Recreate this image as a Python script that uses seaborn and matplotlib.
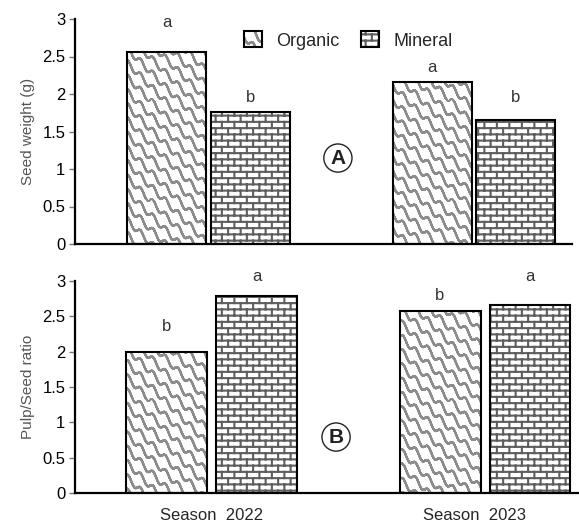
import warnings
warnings.filterwarnings("ignore")
import numpy as np
import pandas as pd
import matplotlib
matplotlib.use("Agg")
import matplotlib.pyplot as plt
import seaborn as sns
from matplotlib import hatch as mhatch
from matplotlib.path import Path
from matplotlib.colors import to_rgba

# ---------------- data ----------------
seasons = ["Season 2022", "Season 2023"]
season_labels = ["Season  2022", "Season  2023"]
treatments = ["Organic", "Mineral"]
seed_weight_organic = [2.56, 2.16]
seed_weight_mineral = [1.76, 1.65]
pulp_seed_organic = [2.00, 2.58]
pulp_seed_mineral = [2.79, 2.66]
seed_letters_organic = ["a", "a"]
seed_letters_mineral = ["b", "b"]
pulp_letters_organic = ["b", "b"]
pulp_letters_mineral = ["a", "a"]
# letter heights (data units)
seed_letter_y_organic = [2.95, 2.35]
seed_letter_y_mineral = [1.96, 1.95]
pulp_letter_y_organic = [2.35, 2.80]
pulp_letter_y_mineral = [3.06, 3.06]
yticks = [0, 0.5, 1, 1.5, 2, 2.5, 3]
ytick_labels = ["0", "0.5", "1", "1.5", "2", "2.5", "3"]


# ---------------- custom hatches ----------------
class BrickHatch(mhatch.HatchPatternBase):
    rows, cols = 16, 8

    def __init__(self, hatch, density):
        self.segs = []
        if "b" in hatch:
            R, C = self.rows, self.cols
            for r in range(R):
                y0 = (r + 0.5) / R
                self.segs.append(((0, y0), (1, y0)))
                y1 = (r + 1.5) / R
                for c in range(C):
                    x = (c + 0.25 + 0.5 * (r % 2)) / C
                    if y1 <= 1:
                        self.segs.append(((x, y0), (x, y1)))
                    else:
                        self.segs.append(((x, y0), (x, 1.0)))
                        self.segs.append(((x, 0.0), (x, y1 - 1)))
        self.num_vertices = 2 * len(self.segs)

    def set_vertices_and_codes(self, vertices, codes):
        for i, (a, b) in enumerate(self.segs):
            vertices[2 * i] = a
            vertices[2 * i + 1] = b
            codes[2 * i] = Path.MOVETO
            codes[2 * i + 1] = Path.LINETO


class WaveHatch(mhatch.HatchPatternBase):
    def __init__(self, hatch, density):
        self.segs = []
        if "w" in hatch:
            n, s = 7, 280
            xs = np.linspace(0, 1, s + 1)
            for k in range(n):
                c = (k + 0.5) / n
                ys = (c - xs + 0.03 * np.sin(2 * np.pi * 8 * xs)) % 1.0
                for i in range(s):
                    if abs(ys[i + 1] - ys[i]) < 0.5:
                        self.segs.append(((xs[i], ys[i]), (xs[i + 1], ys[i + 1])))
        self.num_vertices = 2 * len(self.segs)

    def set_vertices_and_codes(self, vertices, codes):
        for i, (a, b) in enumerate(self.segs):
            vertices[2 * i] = a
            vertices[2 * i + 1] = b
            codes[2 * i] = Path.MOVETO
            codes[2 * i + 1] = Path.LINETO


mhatch._hatch_types.extend([BrickHatch, WaveHatch])

# ---------------- figure ----------------
sns.set_theme(style="white")
plt.rcParams["font.family"] = ["Liberation Sans", "DejaVu Sans"]
plt.rcParams["hatch.linewidth"] = 1.5

fig = plt.figure(figsize=(5.79, 5.26), dpi=100)
W, H = 579, 526
ax1 = fig.add_axes([75 / W, 1 - 244 / H, 497 / W, 225 / H])
ax2 = fig.add_axes([75 / W, 1 - 493 / H, 503 / W, 212 / H])

df_seed = pd.DataFrame({
    "season": seasons * 2,
    "treatment": [treatments[0]] * 2 + [treatments[1]] * 2,
    "value": seed_weight_organic + seed_weight_mineral,
})
df_pulp = pd.DataFrame({
    "season": seasons * 2,
    "treatment": [treatments[0]] * 2 + [treatments[1]] * 2,
    "value": pulp_seed_organic + pulp_seed_mineral,
})

hatches = {"Organic": "w", "Mineral": "b"}
hatch_cols = {"Organic": "#8c8c8c", "Mineral": "#5e5e5e"}

panels = [
    (ax1, df_seed, seed_letters_organic, seed_letters_mineral,
     seed_letter_y_organic, seed_letter_y_mineral, 0.629, 0.05, (-0.503, 1.369)),
    (ax2, df_pulp, pulp_letters_organic, pulp_letters_mineral,
     pulp_letter_y_organic, pulp_letter_y_mineral, 0.658, 0.1, (-0.499, 1.340)),
]
for ax, df, lo, lm, yo, ym, wd, gp, xl in panels:
    sns.barplot(data=df, x="season", y="value", hue="treatment",
                hue_order=treatments, order=seasons,
                palette=["white", "white"], width=wd, gap=gp,
                edgecolor="black", linewidth=1.5, legend=False, ax=ax,
                errorbar=None)
    for cont, t in zip(ax.containers, treatments):
        for p in cont:
            p.set_hatch(hatches[t])
            p._hatch_color = to_rgba(hatch_cols[t])
    for cont, letters, ys in [(ax.containers[0], lo, yo), (ax.containers[1], lm, ym)]:
        for p, let, yv in zip(cont, letters, ys):
            ax.text(p.get_x() + p.get_width() / 2, yv, let, ha="center",
                    va="center", fontsize=12, color="#333333", clip_on=False)
    ax.set_xlim(*xl)
    ax.set_ylim(0, 3)
    ax.set_yticks(yticks)
    ax.set_yticklabels(ytick_labels, fontsize=12, color="black")
    ax.tick_params(axis="y", which="both", left=True, length=4, width=1,
                   color="#777777", pad=3)
    ax.tick_params(axis="x", length=0)
    ax.set_xlabel("")
    for side in ["top", "right"]:
        ax.spines[side].set_visible(False)
    for side in ["left", "bottom"]:
        ax.spines[side].set_color("black")
        ax.spines[side].set_linewidth(1.6)

ax1.set_xticklabels([])
ax2.set_xticks([0, 0.96])
ax2.set_xticklabels(season_labels, fontsize=12)
ax2.tick_params(axis="x", pad=11)

ax1.set_ylabel("Seed weight (g)", fontsize=11, color="#555555", labelpad=5)
ax2.set_ylabel("Pulp/Seed ratio", fontsize=11, color="#555555", labelpad=5)

# legend
handles = [ax1.containers[0][0], ax1.containers[1][0]]
leg = ax1.legend(handles, treatments, loc="center", bbox_to_anchor=(0.55, 0.905),
                 ncol=2, frameon=False, fontsize=13, handlelength=1.0,
                 handleheight=1.0, columnspacing=1.2, handletextpad=0.8)

# circled panel letters
for ax, lab, xy in [(ax1, "A", (0.529, 0.382)), (ax2, "B", (0.519, 0.264))]:
    ax.text(*xy, lab, transform=ax.transAxes, ha="center", va="center",
            fontsize=15, fontweight="bold", color="#222222",
            bbox=dict(boxstyle="circle,pad=0.22", fc="white", ec="#222222", lw=1))

fig.savefig("out.png", dpi=100)
